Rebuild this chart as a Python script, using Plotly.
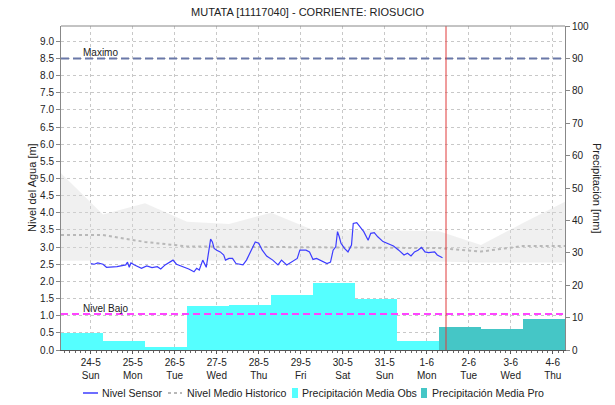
import plotly.graph_objects as go
import pandas as pd

# ---------------- data ----------------
title_text = "MUTATA [11117040] - CORRIENTE: RIOSUCIO"

# sensor level (m)
sensor_time = [
    "2020-05-24 00:00", "2020-05-24 02:00", "2020-05-24 04:00", "2020-05-24 07:00", "2020-05-24 09:00",
    "2020-05-24 15:00", "2020-05-24 20:00", "2020-05-24 21:00", "2020-05-24 22:00", "2020-05-24 23:00",
    "2020-05-25 01:00", "2020-05-25 05:00", "2020-05-25 08:00", "2020-05-25 11:00", "2020-05-25 14:00",
    "2020-05-25 16:00", "2020-05-25 18:30", "2020-05-25 21:00", "2020-05-25 23:00", "2020-05-26 01:00",
    "2020-05-26 05:00", "2020-05-26 08:00", "2020-05-26 11:00", "2020-05-26 12:30", "2020-05-26 14:00",
    "2020-05-26 16:00", "2020-05-26 18:00", "2020-05-26 19:00", "2020-05-26 20:30", "2020-05-26 21:30",
    "2020-05-26 22:30", "2020-05-27 00:00", "2020-05-27 02:00", "2020-05-27 04:00", "2020-05-27 05:00",
    "2020-05-27 07:00", "2020-05-27 09:00", "2020-05-27 11:00", "2020-05-27 15:00", "2020-05-27 17:00",
    "2020-05-27 20:00", "2020-05-27 22:00", "2020-05-28 00:00", "2020-05-28 02:00", "2020-05-28 04:30",
    "2020-05-28 08:00", "2020-05-28 11:00", "2020-05-28 13:00", "2020-05-28 16:00", "2020-05-28 19:00",
    "2020-05-28 22:00", "2020-05-28 23:30", "2020-05-29 03:00", "2020-05-29 05:00", "2020-05-29 07:00",
    "2020-05-29 09:00", "2020-05-29 12:00", "2020-05-29 15:00", "2020-05-29 17:00", "2020-05-29 18:30",
    "2020-05-29 20:00", "2020-05-29 21:00", "2020-05-29 22:00", "2020-05-29 23:00", "2020-05-30 01:00",
    "2020-05-30 03:00", "2020-05-30 05:00", "2020-05-30 06:00", "2020-05-30 08:00", "2020-05-30 10:00",
    "2020-05-30 12:00", "2020-05-30 14:30", "2020-05-30 16:00", "2020-05-30 18:00", "2020-05-30 20:00",
    "2020-05-30 23:00", "2020-05-31 02:00", "2020-05-31 05:00", "2020-05-31 08:00", "2020-05-31 11:00",
    "2020-05-31 13:00", "2020-05-31 15:00", "2020-05-31 17:00", "2020-05-31 19:00", "2020-05-31 21:00",
    "2020-05-31 23:00", "2020-06-01 01:00", "2020-06-01 03:00", "2020-06-01 04:30", "2020-06-01 06:00",
    "2020-06-01 09:00",
]
sensor_level = [
    2.52, 2.50, 2.54, 2.50, 2.41,
    2.43, 2.48, 2.56, 2.41, 2.54,
    2.48, 2.38, 2.45, 2.40, 2.43,
    2.36, 2.48, 2.57, 2.62, 2.50,
    2.43, 2.36, 2.28, 2.38, 2.33,
    2.62, 2.41, 2.72, 3.23, 3.15,
    2.96, 2.91, 2.86, 2.77, 2.62,
    2.67, 2.67, 2.52, 2.48, 2.62,
    2.91, 3.15, 3.11, 2.91, 2.74,
    2.62, 2.48, 2.62, 2.48, 2.57,
    2.67, 2.91, 2.91, 2.86, 2.64,
    2.67, 2.60, 2.52, 2.56, 2.91,
    3.01, 3.45, 3.30, 3.11, 2.96,
    2.86, 3.06, 3.69, 3.71, 3.59,
    3.45, 3.20, 3.40, 3.42, 3.30,
    3.16, 3.09, 3.03, 2.91, 2.77,
    2.82, 2.74, 2.86, 2.91, 2.99,
    2.86, 2.84, 2.86, 2.86, 2.77,
    2.69,
]

# historical band and mean (m), daily at 07:00
hist_time = [
    "2020-05-23 07:00", "2020-05-24 07:00", "2020-05-25 07:00", "2020-05-26 07:00", "2020-05-27 07:00",
    "2020-05-28 07:00", "2020-05-29 07:00", "2020-05-30 07:00", "2020-05-31 07:00", "2020-06-01 07:00",
    "2020-06-02 07:00", "2020-06-03 07:00", "2020-06-04 07:00",
]
hist_max = [5.15, 3.95, 4.28, 3.74, 3.67, 4.00, 3.50, 3.50, 3.48, 3.46, 3.06, 3.70, 4.32]
hist_min = [2.60, 2.61, 2.61, 2.60, 2.61, 2.60, 2.61, 2.61, 2.60, 2.58, 2.55, 2.55, 2.55]
hist_mean = [3.35, 3.35, 3.15, 3.02, 3.01, 3.00, 3.00, 3.00, 2.99, 2.97, 2.87, 3.03, 3.03]

# daily precipitation (mm), period 07:00 previous day -> 07:00 of the labelled day
precip_obs_day = ["2020-05-24", "2020-05-25", "2020-05-26", "2020-05-27", "2020-05-28",
                  "2020-05-29", "2020-05-30", "2020-05-31", "2020-06-01"]
precip_obs = [5.3, 2.9, 1.0, 13.7, 14.0, 17.1, 20.7, 15.8, 2.9]
precip_pro_day = ["2020-06-02", "2020-06-03", "2020-06-04"]
precip_pro = [7.2, 6.4, 9.6]

tick_days = ["2020-05-24", "2020-05-25", "2020-05-26", "2020-05-27", "2020-05-28", "2020-05-29",
             "2020-05-30", "2020-05-31", "2020-06-01", "2020-06-02", "2020-06-03", "2020-06-04"]
tick_labels = ["24-5<br>Sun", "25-5<br>Mon", "26-5<br>Tue", "27-5<br>Wed", "28-5<br>Thu", "29-5<br>Fri",
               "30-5<br>Sat", "31-5<br>Sun", "1-6<br>Mon", "2-6<br>Tue", "3-6<br>Wed", "4-6<br>Thu"]

NIVEL_MAXIMO = 8.5
NIVEL_BAJO = 1.05
NOW_TIME = "2020-06-01 11:00"
X_START = "2020-05-23 07:00"
X_END = "2020-06-04 07:00"
LEVEL_TOP = 9.4444
PRECIP_TOP = 100

# ---------------- figure ----------------
W, H = 615, 405
ML, MR, MT, MB = 61, 50, 26, 55
PW, PH = W - ML - MR, H - MT - MB


def px_x(x):
    return (x - ML) / PW


def px_y(y):
    return (H - MB - y) / PH


def bar_centers(days):
    # bar spans 07:00 of previous day to 07:00 of labelled day
    return [pd.Timestamp(d) - pd.Timedelta(hours=5) for d in days]


DAY_MS = 24 * 3600 * 1000
FONT = "Liberation Sans, Arial, sans-serif"

SENSOR_COLOR = "#3c3cff"
MEAN_COLOR = "#b8b8b8"
OBS_COLOR = "#55ffff"
PRO_COLOR = "#45c6c6"

fig = go.Figure()

fig.add_trace(go.Scatter(x=hist_time, y=hist_max, mode="lines", line=dict(width=0),
                         showlegend=False, hoverinfo="skip"))
fig.add_trace(go.Scatter(x=hist_time, y=hist_min, mode="lines", line=dict(width=0),
                         fill="tonexty", fillcolor="rgba(215,215,215,0.38)",
                         showlegend=False, hoverinfo="skip"))
fig.add_trace(go.Scatter(x=hist_time, y=hist_mean, mode="lines", name="Nivel Medio Historico",
                         line=dict(color=MEAN_COLOR, width=2, dash="3px,3px"), showlegend=False))
fig.add_trace(go.Scatter(x=sensor_time, y=sensor_level, mode="lines", name="Nivel Sensor",
                         line=dict(color=SENSOR_COLOR, width=1.2), showlegend=False))
fig.add_trace(go.Bar(x=bar_centers(precip_obs_day), y=precip_obs, width=[DAY_MS] * len(precip_obs),
                     marker=dict(color=OBS_COLOR, line=dict(width=0)), name="Precipitación Media Obs",
                     yaxis="y2", showlegend=False))
fig.add_trace(go.Bar(x=bar_centers(precip_pro_day), y=precip_pro, width=[DAY_MS] * len(precip_pro),
                     marker=dict(color=PRO_COLOR, line=dict(width=0)), name="Precipitación Media Pro",
                     yaxis="y2", showlegend=False))

fig.add_shape(type="line", xref="paper", x0=0, x1=1, yref="y", y0=NIVEL_MAXIMO, y1=NIVEL_MAXIMO,
              line=dict(color="#6a78a8", width=2, dash="8px,4px"), layer="above")
fig.add_shape(type="line", xref="paper", x0=0, x1=1, yref="y", y0=NIVEL_BAJO, y1=NIVEL_BAJO,
              line=dict(color="#ff44ff", width=2, dash="7px,4px"), layer="above")
fig.add_shape(type="line", xref="x", x0=NOW_TIME, x1=NOW_TIME, yref="paper", y0=0, y1=1,
              line=dict(color="#e03a3a", width=1), layer="above")
# top border line
fig.add_shape(type="line", xref="paper", x0=0, x1=1, yref="paper", y0=1, y1=1,
              line=dict(color="#888", width=1), layer="above")

fig.add_annotation(text="Maximo", x=px_x(81), xref="paper", xanchor="left", y=NIVEL_MAXIMO, yref="y",
                   yanchor="bottom", showarrow=False, font=dict(size=10, color="#222"), yshift=-2)
fig.add_annotation(text="Nivel Bajo", x=px_x(81), xref="paper", xanchor="left", y=NIVEL_BAJO, yref="y",
                   yanchor="bottom", showarrow=False, font=dict(size=10, color="#222"), yshift=-2)
fig.add_annotation(text="Precipitación [mm]", x=px_x(597), xref="paper", y=0.5, yref="paper",
                   textangle=90, showarrow=False, font=dict(size=11, color="#222"), xanchor="center")
fig.add_annotation(text="Nivel del Agua [m]", x=px_x(32), xref="paper", y=0.5, yref="paper",
                   textangle=-90, showarrow=False, font=dict(size=11, color="#222"), xanchor="center")

# ---- manual legend (single row at the bottom) ----
LEG_Y = px_y(393)
legend_items = [
    ("line", SENSOR_COLOR, None, 83, 98, "Nivel Sensor", 100),
    ("line", MEAN_COLOR, "3px,3px", 168, 182, "Nivel Medio Historico", 185),
    ("rect", OBS_COLOR, None, 292, 298, "Precipitación Media Obs", 300),
    ("rect", PRO_COLOR, None, 421, 427, "Precipitación Media Pro", 430),
]
for kind, color, dash, x0, x1, label, tx in legend_items:
    if kind == "line":
        fig.add_shape(type="line", xref="paper", yref="paper", x0=px_x(x0), x1=px_x(x1),
                      y0=LEG_Y, y1=LEG_Y,
                      line=dict(color=color, width=2 if dash else 1.5, dash=dash or "solid"))
    else:
        fig.add_shape(type="rect", xref="paper", yref="paper", x0=px_x(x0), x1=px_x(x1),
                      y0=px_y(398), y1=px_y(388), fillcolor=color, line=dict(width=0))
    fig.add_annotation(text=label, x=px_x(tx), xref="paper", xanchor="left", y=LEG_Y, yref="paper",
                       yanchor="middle", showarrow=False, font=dict(size=10.6, color="#222"))

fig.update_layout(
    width=W, height=H,
    margin=dict(l=ML, r=MR, t=MT, b=MB, autoexpand=False),
    paper_bgcolor="white", plot_bgcolor="white",
    font=dict(family=FONT, size=10, color="#222"),
    title=dict(text=title_text, x=0.5, xref="container", y=1 - 8 / H, yanchor="top",
               font=dict(size=11, color="#222"), automargin=False),
    barmode="overlay",
    bargap=0,
    showlegend=False,
    xaxis=dict(type="date", range=[X_START, X_END], tickvals=tick_days, ticktext=tick_labels,
               showgrid=True, gridcolor="#c8c8c8", griddash="dot", gridwidth=1,
               showline=True, linecolor="#555", linewidth=1, mirror=False,
               ticks="outside", ticklen=3, tickcolor="#555", tickfont=dict(size=10),
               minor=dict(dtick=3 * 3600 * 1000, ticks="outside", ticklen=2, tickcolor="#666",
                          showgrid=False),
               zeroline=False, automargin=False),
    yaxis=dict(range=[0, LEVEL_TOP], tickvals=[i * 0.5 for i in range(19)],
               ticktext=[f"{i * 0.5:.1f}" for i in range(19)],
               showgrid=True, gridcolor="#c8c8c8", griddash="dot", gridwidth=1,
               showline=True, linecolor="#888", linewidth=1,
               ticks="outside", ticklen=4, tickcolor="#888", tickfont=dict(size=10),
               zeroline=False, automargin=False),
    yaxis2=dict(range=[0, PRECIP_TOP], overlaying="y", side="right", dtick=10,
                showgrid=False, showline=True, linecolor="#888", linewidth=1,
                ticks="outside", ticklen=4, tickcolor="#888", tickfont=dict(size=10),
                zeroline=False, automargin=False),
)

fig.write_html("out.html", config={"displayModeBar": False},
               post_script="document.body.style.margin='0';document.body.style.padding='0';")
